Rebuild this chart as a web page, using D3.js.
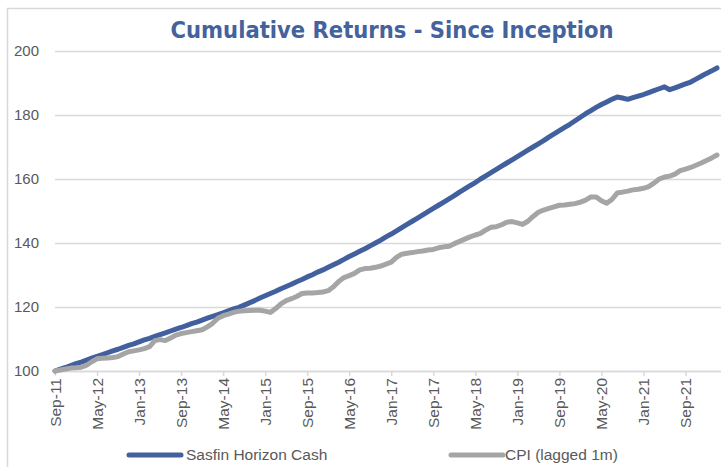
<!DOCTYPE html>
<html>
<head>
<meta charset="utf-8">
<script src="https://cdn.jsdelivr.net/npm/d3@7/dist/d3.min.js"></script>
<style>
  html, body { margin: 0; padding: 0; background: #fff; }
  svg { display: block; }
</style>
</head>
<body>
<svg id="chart" width="721" height="467"></svg>
<script>
// ---- Data ----
const title = "Cumulative Returns - Since Inception";
const seriesNames = ["Sasfin Horizon Cash", "CPI (lagged 1m)"];
const startMonth = new Date(2011, 8, 1);   // Sep-11
const endMonth = new Date(2022, 3, 1);     // exclusive -> last is Mar-22
const xTickLabels = ["Sep-11","May-12","Jan-13","Sep-13","May-14","Jan-15","Sep-15","May-16",
                     "Jan-17","Sep-17","May-18","Jan-19","Sep-19","May-20","Jan-21","Sep-21"];
const yTicks = [100, 120, 140, 160, 180, 200];

const sasfin = [
  100.0,100.6,101.1,101.7,102.3,102.8,103.4,104.0,104.6,105.1,
  105.7,106.3,106.8,107.4,108.0,108.5,109.1,109.7,110.2,110.8,
  111.4,111.9,112.5,113.1,113.6,114.2,114.8,115.3,115.9,116.5,
  117.1,117.6,118.2,118.8,119.4,119.9,120.6,121.3,122.0,122.8,
  123.5,124.2,124.9,125.7,126.4,127.1,127.9,128.6,129.4,130.1,
  130.9,131.6,132.4,133.2,134.0,134.9,135.8,136.6,137.4,138.2,
  139.1,140.0,140.9,141.9,142.8,143.8,144.8,145.8,146.8,147.8,
  148.8,149.8,150.8,151.8,152.8,153.8,154.8,155.9,156.9,157.9,
  158.9,160.0,161.0,162.0,163.0,164.0,165.0,166.0,167.0,168.0,
  169.0,170.0,171.0,172.0,173.1,174.1,175.1,176.1,177.1,178.2,
  179.3,180.4,181.4,182.4,183.3,184.1,184.9,185.6,185.3,184.9,
  185.4,185.9,186.4,187.0,187.6,188.2,188.8,187.9,188.5,189.1,
  189.7,190.3,191.2,192.1,193.0,193.8,194.7
];
const cpi = [
  100.0,100.3,100.6,100.9,101.0,101.2,101.8,102.9,103.8,104.0,
  104.1,104.2,104.5,105.3,106.0,106.3,106.6,107.0,107.6,109.5,
  109.8,109.5,110.3,111.2,111.7,112.0,112.3,112.6,112.9,113.8,
  114.9,116.5,117.3,117.8,118.3,118.7,118.8,118.9,119.0,119.0,
  118.7,118.3,119.5,121.0,122.0,122.6,123.3,124.2,124.4,124.4,
  124.5,124.7,125.1,126.3,128.0,129.2,129.8,130.5,131.6,132.0,
  132.1,132.4,132.8,133.4,134.0,135.5,136.5,136.8,137.0,137.3,
  137.5,137.8,138.0,138.5,138.8,139.0,139.8,140.5,141.2,141.9,
  142.5,143.0,144.1,144.9,145.1,145.7,146.5,146.7,146.3,145.8,
  146.8,148.3,149.6,150.3,150.8,151.3,151.8,151.9,152.1,152.3,
  152.8,153.4,154.4,154.4,153.2,152.4,153.6,155.6,155.9,156.2,
  156.6,156.8,157.1,157.6,158.7,160.0,160.6,160.9,161.5,162.6,
  163.1,163.6,164.3,165.0,165.8,166.6,167.5
];
const colors = ["#41609d", "#a5a5a5"];

// ---- Chart ----
(function () {
const svg = d3.select("#chart");
const fmt = d3.timeFormat("%b-%y");
const categories = d3.timeMonths(startMonth, endMonth).map(fmt);

const mLeft = 55, mRight = 717, mTop = 51, mBottom = 371;
const x = d3.scalePoint().domain(categories).range([mLeft, mRight]);
const y = d3.scaleLinear().domain([100, 200]).range([mBottom, mTop]);

// chart border
svg.append("rect")
  .attr("x", 7.5).attr("y", 8.5).attr("width", 740).attr("height", 480)
  .attr("fill", "none").attr("stroke", "#d9d9d9").attr("stroke-width", 1.5);

// title
svg.append("text")
  .attr("x", 392).attr("y", 38)
  .attr("text-anchor", "middle")
  .attr("font-family", "'DejaVu Sans Condensed', 'DejaVu Sans', sans-serif")
  .attr("font-weight", "bold")
  .attr("font-size", 23.5)
  .attr("fill", "#44629c")
  .text(title);

// y axis with gridlines
const yAxis = d3.axisLeft(y).tickValues(yTicks).tickSize(-(721 - mLeft)).tickPadding(16);
const gy = svg.append("g").attr("transform", `translate(${mLeft},0)`).call(yAxis);
gy.select(".domain").remove();
gy.selectAll(".tick line").attr("stroke", "#d9d9d9").attr("stroke-width", 1.5);
gy.selectAll(".tick text")
  .attr("font-family", "'Liberation Sans', Arial, sans-serif")
  .attr("font-size", 15).attr("fill", "#595959");

// x axis
const xAxis = d3.axisBottom(x)
  .tickValues(categories.filter(c => xTickLabels.includes(c)))
  .tickSize(5).tickPadding(6);
const gx = svg.append("g").attr("transform", `translate(0,${mBottom})`).call(xAxis);
gx.select(".domain").attr("stroke", "#d9d9d9").attr("stroke-width", 1.5)
  .attr("d", `M${mLeft},0.5H721`);
gx.selectAll(".tick line").attr("stroke", "#d9d9d9").attr("stroke-width", 1.5);
gx.selectAll(".tick text")
  .attr("font-family", "'Liberation Sans', Arial, sans-serif")
  .attr("font-size", 15.5).attr("fill", "#595959")
  .attr("transform", "rotate(-90)")
  .attr("text-anchor", "end")
  .attr("x", -7).attr("y", 0).attr("dy", "0.35em");

// lines
const series = [sasfin, cpi];
const line = d3.line().x((d, i) => x(categories[i])).y(d => y(d));
series.forEach((s, k) => {
  svg.append("path")
    .datum(s)
    .attr("d", line)
    .attr("fill", "none")
    .attr("stroke", colors[k])
    .attr("stroke-width", 5)
    .attr("stroke-linejoin", "round")
    .attr("stroke-linecap", "round");
});

// legend
const legendPos = [{lx: 129, tx: 186}, {lx: 451, tx: 505}];
seriesNames.forEach((n, k) => {
  const p = legendPos[k];
  svg.append("line")
    .attr("x1", p.lx).attr("x2", p.lx + 52).attr("y1", 455).attr("y2", 455)
    .attr("stroke", colors[k]).attr("stroke-width", 5).attr("stroke-linecap", "round");
  svg.append("text")
    .attr("x", p.tx).attr("y", 455).attr("dy", "0.35em")
    .attr("font-family", "'Liberation Sans', Arial, sans-serif")
    .attr("font-size", 15.5).attr("fill", "#595959")
    .text(n);
});
})();
</script>
</body>
</html>
